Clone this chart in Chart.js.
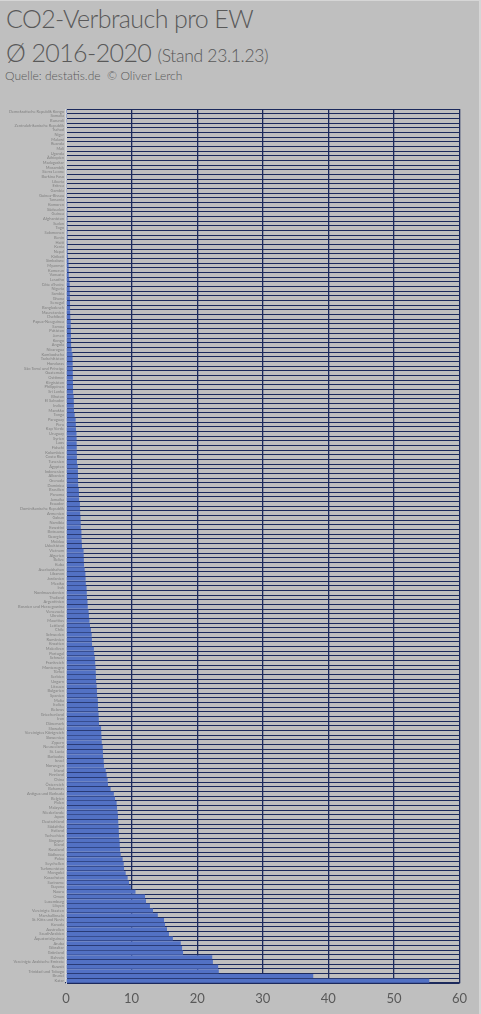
<!DOCTYPE html>
<html>
<head>
<meta charset="utf-8">
<title>CO2-Verbrauch pro EW</title>
<script src="https://cdn.jsdelivr.net/npm/chart.js@4.4.1/dist/chart.umd.min.js"></script>
<style>
  html, body { margin: 0; padding: 0; }
  body {
    width: 481px; height: 1014px; position: relative; overflow: hidden;
    background: #bfbfbf; color: #595959;
    font-family: Lato, "Open Sans", sans-serif;
  }
  #frame {
    position: absolute; left: 0; top: 0; width: 479px; height: 1013px;
    border-top: 1px solid #d6d6d6; border-right: 2px solid #d6d6d6;
    pointer-events: none;
  }
  .t { position: absolute; left: 6px; white-space: nowrap; line-height: 1; font-weight: 300; }
  #t1 { top: 6px; font-size: 25px; letter-spacing: -0.6px; }
  #t2 { top: 40px; font-size: 25px; letter-spacing: -0.6px; }
  #t2 span { font-size: 17.5px; letter-spacing: -0.3px; }
  #t3 { top: 70px; left: 5px; font-size: 12px; }
  #chart { position: absolute; left: 0; top: 0; }
</style>
</head>
<body>
<div id="frame"></div>
<div class="t" id="t1">CO2-Verbrauch pro EW</div>
<div class="t" id="t2">Ø 2016-2020 <span>(Stand 23.1.23)</span></div>
<div class="t" id="t3">Quelle: destatis.de&nbsp; © Oliver Lerch</div>
<canvas id="chart" width="481" height="1014"></canvas>
<script>
// Länder, aufsteigend sortiert
const laender = [
  "Demokratische Republik Kongo", "Somalia", "Burundi", "Zentralafrikanische Republik", "Tschad",
  "Niger", "Malawi", "Ruanda", "Mali", "Uganda",
  "Äthiopien", "Madagaskar", "Mosambik", "Sierra Leone", "Burkina Faso",
  "Liberia", "Eritrea", "Gambia", "Guinea-Bissau", "Tansania",
  "Komoren", "Südsudan", "Guinea", "Afghanistan", "Sudan",
  "Togo", "Salomonen", "Benin", "Haiti", "Kenia",
  "Nepal", "Kiribati", "Simbabwe", "Myanmar", "Kamerun",
  "Vanuatu", "Lesotho", "Côte d'Ivoire", "Nigeria", "Sambia",
  "Ghana", "Senegal", "Bangladesch", "Mauretanien", "Dschibuti",
  "Papua-Neuguinea", "Samoa", "Pakistan", "Jemen", "Kongo",
  "Angola", "Nicaragua", "Kambodscha", "Tadschikistan", "Honduras",
  "São Tomé und Príncipe", "Guatemala", "Osttimor", "Kirgisistan", "Philippinen",
  "Sri Lanka", "Bhutan", "El Salvador", "Indien", "Marokko",
  "Tonga", "Paraguay", "Peru", "Kap Verde", "Uruguay",
  "Syrien", "Laos", "Fidschi", "Kolumbien", "Costa Rica",
  "Tunesien", "Ägypten", "Indonesien", "Albanien", "Grenada",
  "Dominica", "Brasilien", "Panama", "Jamaika", "Ecuador",
  "Dominikanische Republik", "Armenien", "Gabun", "Namibia", "Eswatini",
  "Botsuana", "Georgien", "Moldau", "Usbekistan", "Vietnam",
  "Algerien", "Belize", "Kuba", "Aserbaidschan", "Libanon",
  "Jordanien", "Mexiko", "Irak", "Nordmazedonien", "Thailand",
  "Argentinien", "Bosnien und Herzegowina", "Venezuela", "Ukraine", "Mauritius",
  "Lettland", "Chile", "Schweden", "Rumänien", "Kroatien",
  "Malediven", "Portugal", "Schweiz", "Frankreich", "Montenegro",
  "Türkei", "Serbien", "Ungarn", "Litauen", "Bulgarien",
  "Spanien", "Malta", "Italien", "Belarus", "Griechenland",
  "Iran", "Dänemark", "Slowakei", "Vereinigtes Königreich", "Slowenien",
  "Zypern", "Neuseeland", "St. Lucia", "Barbados", "Israel",
  "Norwegen", "Irland", "Finnland", "China", "Österreich",
  "Bahamas", "Antigua und Barbuda", "Belgien", "Polen", "Malaysia",
  "Niederlande", "Japan", "Deutschland", "Südafrika", "Estland",
  "Tschechien", "Singapur", "Island", "Russland", "Südkorea",
  "Palau", "Seychellen", "Turkmenistan", "Mongolei", "Kasachstan",
  "Suriname", "Guyana", "Nauru", "Oman", "Luxemburg",
  "Libyen", "Vereinigte Staaten", "Marshallinseln", "St. Kitts und Nevis", "Kanada",
  "Australien", "Saudi-Arabien", "Äquatorialguinea", "Aruba", "Gibraltar",
  "Grönland", "Bahrain", "Vereinigte Arabische Emirate", "Kuwait", "Trinidad und Tobago",
  "Brunei", "Katar"
];

// t CO2 pro Einwohner, Durchschnitt 2016-2020
const co2ProEW = [
  0.02, 0.03, 0.04, 0.07, 0.08, 0.09, 0.10, 0.10, 0.11, 0.11,
  0.12, 0.12, 0.13, 0.13, 0.14, 0.14, 0.15, 0.15, 0.16, 0.18,
  0.20, 0.21, 0.21, 0.22, 0.22, 0.23, 0.23, 0.24, 0.24, 0.25,
  0.26, 0.28, 0.38, 0.40, 0.41, 0.42, 0.50, 0.56, 0.57, 0.58,
  0.60, 0.61, 0.62, 0.63, 0.66, 0.72, 0.73, 0.74, 0.76, 0.77,
  0.78, 0.86, 0.99, 1.00, 1.02, 1.03, 1.04, 1.05, 1.06, 1.07,
  1.08, 1.17, 1.19, 1.20, 1.22, 1.32, 1.47, 1.50, 1.52, 1.60,
  1.62, 1.63, 1.64, 1.65, 1.66, 1.67, 1.80, 1.82, 1.83, 1.84,
  1.86, 1.96, 1.98, 2.00, 2.12, 2.14, 2.16, 2.22, 2.24, 2.26,
  2.35, 2.37, 2.39, 2.44, 2.68, 2.70, 2.72, 2.75, 2.85, 2.96,
  2.99, 3.02, 3.14, 3.17, 3.20, 3.28, 3.32, 3.45, 3.50, 3.58,
  3.66, 3.80, 3.92, 3.95, 3.97, 4.25, 4.30, 4.40, 4.45, 4.52,
  4.54, 4.56, 4.60, 4.68, 4.72, 4.75, 4.85, 4.87, 4.90, 4.97,
  5.00, 5.03, 5.35, 5.38, 5.42, 5.45, 5.60, 5.63, 5.65, 5.75,
  5.80, 6.05, 6.20, 6.35, 6.40, 6.80, 7.30, 7.47, 7.72, 7.78,
  7.88, 7.93, 7.97, 8.02, 8.05, 8.08, 8.17, 8.20, 8.24, 8.34,
  8.64, 8.80, 8.85, 9.10, 9.40, 9.60, 9.90, 10.6, 12.05, 12.2,
  12.8, 13.27, 14.0, 14.95, 15.1, 15.4, 15.7, 16.3, 17.5, 17.7,
  17.85, 22.3, 22.4, 23.2, 23.3, 37.7, 55.4
];

const xMin = 0;
const xMax = 60;
const xStep = 10;

const navy = "#1c2a5c";
const grau = "#595959";

new Chart(document.getElementById("chart").getContext("2d"), {
  type: "bar",
  data: {
    labels: laender,
    datasets: [{
      label: "CO2 pro EW",
      data: co2ProEW,
      backgroundColor: "#5271c4",
      borderWidth: 0,
      barPercentage: 0.86,
      categoryPercentage: 1
    }]
  },
  options: {
    indexAxis: "y",
    responsive: false,
    animation: false,
    layout: { padding: { top: 109, right: 21.5, bottom: 5, left: 0 } },
    plugins: {
      legend: { display: false },
      tooltip: { enabled: false }
    },
    scales: {
      x: {
        min: xMin,
        max: xMax,
        ticks: {
          stepSize: xStep,
          color: grau,
          padding: 8,
          font: { family: "Lato", size: 13 }
        },
        grid: {
          color: (c) => (c.index === 0 ? "#d6d6d6" : navy),
          lineWidth: 1.3,
          drawTicks: false
        },
        border: { color: navy, width: 1.3 },
        afterFit: (s) => { s.height = 26; }
      },
      y: {
        ticks: {
          autoSkip: false,
          color: "#808080",
          padding: 2,
          font: { family: "Lato", size: 4 }
        },
        grid: {
          color: navy,
          lineWidth: 1,
          drawTicks: false,
          offset: true
        },
        border: { color: "#d6d6d6", width: 1 },
        afterFit: (s) => { s.width = 66; }
      }
    }
  }
});
</script>
</body>
</html>
